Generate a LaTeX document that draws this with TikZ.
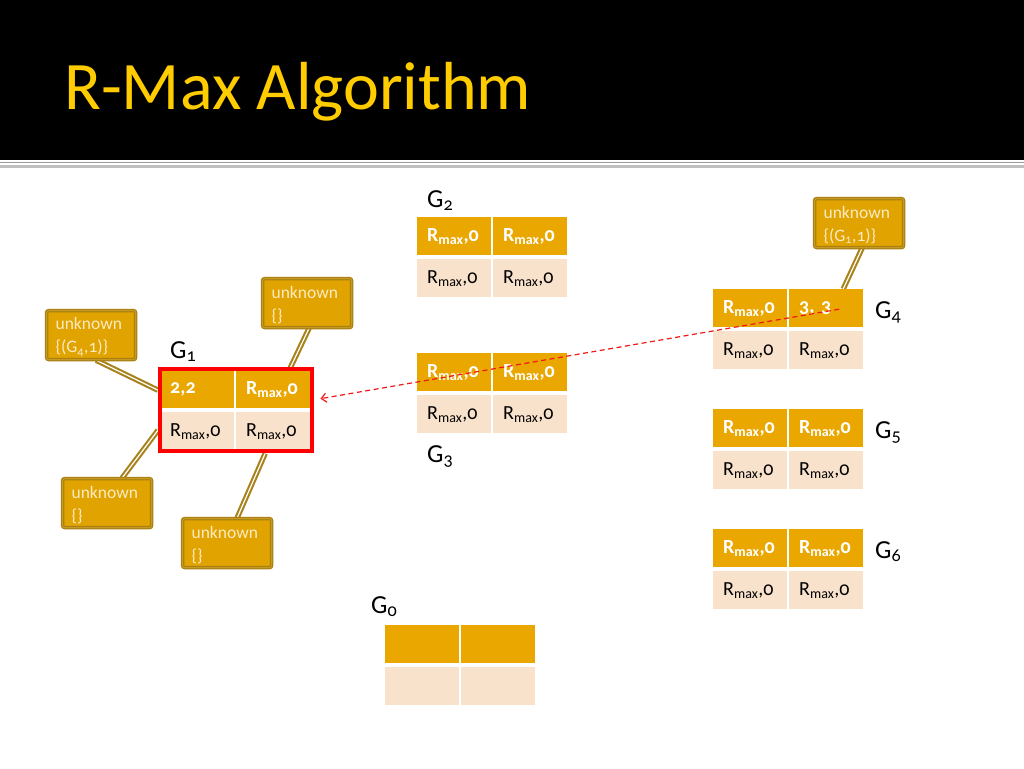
\documentclass[tikz,border=0pt]{standalone}
\usepackage{fontspec}
\setmainfont[Numbers=OldStyle]{Carlito}
\usetikzlibrary{arrows.meta,calc,backgrounds}
\definecolor{hdr}{HTML}{E9A700}
\definecolor{bdy}{HTML}{F9E2CB}
\definecolor{boxfill}{HTML}{E0A300}
\definecolor{boxline}{HTML}{A88014}
\definecolor{boxinner}{HTML}{C89A1E}
\definecolor{boxtext}{HTML}{FCEBC2}
\definecolor{titlecol}{HTML}{FFCC00}
\definecolor{linkcol}{HTML}{A8821A}
\definecolor{arrowred}{HTML}{F01818}
\newcommand\Rm{R\textsubscript{max},0}
\newcommand\gtab[7]{%
  \node[hcell] (#1a) at (#2,#3) {#4};
  \node[hcell] (#1b) at ({#2+76},#3) {#5};
  \node[bcell] (#1c) at (#2,{#3+42}) {#6};
  \node[bcell] (#1d) at ({#2+76},{#3+42}) {#7};}
\begin{document}
\begin{tikzpicture}[x=1pt,y=-1pt,
  hcell/.style={fill=hdr, text=white, font=\fontsize{20}{24}\selectfont\bfseries,
    minimum width=74pt, minimum height=38pt, inner xsep=10pt, inner ysep=0pt,
    text width=54pt, align=left, anchor=north west},
  bcell/.style={hcell, fill=bdy, text=black, font=\fontsize{20}{24}\selectfont},
  ubox/.style={draw=boxline, double=boxinner, double distance=1pt, line width=1.2pt,
    fill=boxfill, rounded corners=2pt,
    minimum width=89pt, minimum height=49pt, text=boxtext,
    font=\fontsize{17.5}{23}\selectfont, align=left, text width=71pt,
    inner xsep=9pt, inner ysep=0pt, anchor=north west},
  lbl/.style={font=\fontsize{26}{30}\selectfont, inner sep=0pt, anchor=base west},
  link/.style={draw=linkcol, double=white, double distance=1.2pt, line width=2.1pt},
  dasharrow/.style={draw=arrowred, line width=1.2pt, dash pattern=on 5pt off 3.5pt,
    -{Straight Barb[length=5pt,width=9pt]}}
]
\useasboundingbox (0,0) rectangle (1024,768);
\begin{scope}[on background layer]
\fill[white] (0,0) rectangle (1024,768);
\fill[black] (0,0) rectangle (1024,160);
\draw[color=black!40, line width=1.5pt] (0,162.3) -- (1024,162.3);
\draw[color=black!25, line width=2.5pt] (0,166.5) -- (1024,166.5);
\end{scope}
\node[font=\fontsize{68}{72}\selectfont, text=titlecol, anchor=base west, inner sep=0pt] (title) at (64,109) {R-Max Algorithm};

% tables
\gtab{g2}{417}{217}{\Rm}{\Rm}{\Rm}{\Rm}
\gtab{g3}{417}{353}{\Rm}{\Rm}{\Rm}{\Rm}
\gtab{g4}{713}{289}{\Rm}{3, 3}{\Rm}{\Rm}
\gtab{g5}{713}{409}{\Rm}{\Rm}{\Rm}{\Rm}
\gtab{g6}{713}{529}{\Rm}{\Rm}{\Rm}{\Rm}
\gtab{g0}{385}{625}{}{}{}{}
\gtab{g1}{160}{370}{2,2}{\Rm}{\Rm}{\Rm}
\draw[red, line width=4pt] (159.7,368.7) rectangle (312,450.7);

% labels
\node[lbl] (lg2) at (427,207) {G\textsubscript{2}};
\node[lbl] (lg3) at (427,462) {G\textsubscript{3}};
\node[lbl] (lg1) at (170,358) {G\textsubscript{1}};
\node[lbl] (lg4) at (875,318) {G\textsubscript{4}};
\node[lbl] (lg5) at (875,438) {G\textsubscript{5}};
\node[lbl] (lg6) at (875,558) {G\textsubscript{6}};
\node[lbl] (lg0) at (371,613) {G\textsubscript{0}};

% unknown boxes
\node[ubox] (uA) at (46,310) {\rule{0pt}{16pt}unknown\\\{(G\textsubscript{4},1)\}};
\node[ubox] (uB) at (262,278) {\rule{0pt}{16pt}unknown\\\{\}};
\node[ubox] (uC) at (62,478) {\rule{0pt}{16pt}unknown\\\{\}};
\node[ubox] (uD) at (182,518) {\rule{0pt}{16pt}unknown\\\{\}};
\node[ubox] (uE) at (814,198) {\rule{0pt}{16pt}unknown\\\{(G\textsubscript{1},1)\}};

% connectors
\begin{scope}[on background layer]
\draw[link] ($(uA.south)+(5,0)$) -- ($(g1a.west)+(-2,1)$);
\draw[link] ($(uB.south)+(2,0)$) -- ($(g1b.north)+(17,-2)$);
\draw[link] ($(uC.north)+(15,0)$) -- ($(g1c.west)+(-2,-1)$);
\draw[link] ($(uD.north)+(10,0)$) -- ($(g1d.south)+(-8,3)$);
\draw[link] ($(uE.south)+(3,0)$) -- ($(g4b.north)+(17,0)$);
\end{scope}

% dashed arrow
\draw[dasharrow] ($(g4b.center)+(13,1)$) -- ($(g1b.east)+(10,9.5)$);
\end{tikzpicture}
\end{document}
